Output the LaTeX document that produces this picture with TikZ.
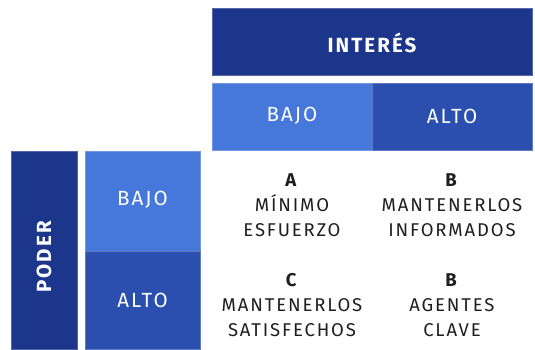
\documentclass[tikz,border=0pt]{standalone}
\usepackage{fontspec}
\setmainfont{Fira Sans}[LetterSpace=10]
\definecolor{navy}{HTML}{1B368B}
\definecolor{lightb}{HTML}{4677DA}
\definecolor{midb}{HTML}{2A4FAF}
\definecolor{txt}{HTML}{1E1E1E}
\tikzset{
  cell/.style={draw=#1!75!white, line width=0.7pt, fill=#1},
  head/.style={text=white, font=\fontsize{20.5}{22}\selectfont},
  bhead/.style={text=white, font=\bfseries\fontsize{20.5}{22}\selectfont},
  body/.style={text=txt, align=center, font=\fontsize{18.5}{25}\selectfont}
}
\begin{document}
\begin{tikzpicture}[x=1pt,y=-1pt]
\useasboundingbox (0,0) rectangle (535,349);
% top header
\path[cell=navy] (212.5,8.5) rectangle (532,75);
\path[cell=lightb] (212.5,83.5) rectangle (372,150.5);
\path[cell=midb] (372,83.5) rectangle (532,150.5);
% left
\path[cell=navy] (11,151) rectangle (77.5,349.5);
\path[cell=lightb] (85.5,151) rectangle (200,251);
\path[cell=midb] (85.5,251) rectangle (200,349.5);
\node[bhead] (interes) at (372,43) {INTERÉS};
\node[head] (ibajo) at (292,116) {BAJO};
\node[head] (ialto) at (452,116) {ALTO};
\node[bhead, rotate=90] (poder) at (44,257) {PODER};
\node[head] (pbajo) at (142.5,200) {BAJO};
\node[head] (palto) at (142.5,300) {ALTO};
\node[body] (q1) at (292,205) {\textbf{A}\\MÍNIMO\\ESFUERZO};
\node[body] (q2) at (452,205) {\textbf{B}\\MANTENERLOS\\INFORMADOS};
\node[body] (q3) at (292,305) {\textbf{C}\\MANTENERLOS\\SATISFECHOS};
\node[body] (q4) at (452,305) {\textbf{B}\\AGENTES\\CLAVE};
\end{tikzpicture}
\end{document}
